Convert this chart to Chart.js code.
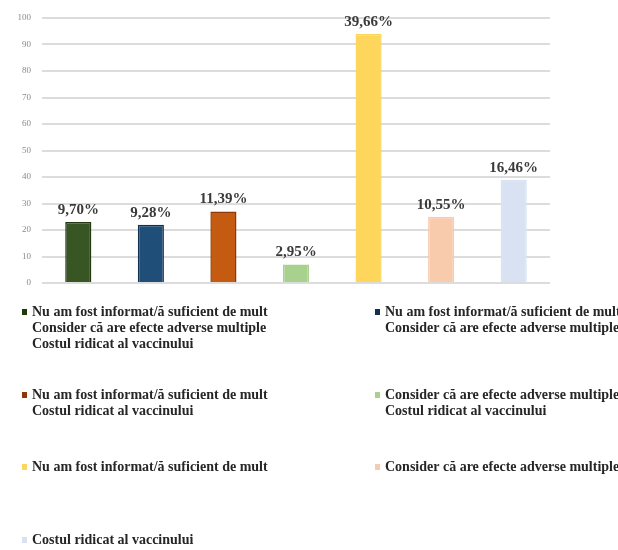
<!DOCTYPE html>
<html>
<head>
<meta charset="utf-8">
<script src="https://cdn.jsdelivr.net/npm/chart.js@4.4.0/dist/chart.umd.min.js"></script>
<style>
  html, body { margin: 0; padding: 0; background: #ffffff; }
  #wrap { width: 618px; height: 550px; position: relative; }
</style>
</head>
<body>
<div id="wrap"><canvas id="chart" width="618" height="550"></canvas></div>
<script>
// Reasons for not getting vaccinated (respondents could pick combinations)
const reasonInfo = 'Nu am fost informat/ă suficient de mult';
const reasonSide = 'Consider că are efecte adverse multiple';
const reasonCost = 'Costul ridicat al vaccinului';

const categories = [
  [reasonInfo, reasonSide, reasonCost],
  [reasonInfo, reasonSide],
  [reasonInfo, reasonCost],
  [reasonSide, reasonCost],
  [reasonInfo],
  [reasonSide],
  [reasonCost]
];

// Number of respondents per answer combination
const respondents = [23, 22, 27, 7, 94, 25, 39];

const fillColors   = ['#375623', '#1f4e79', '#c55a11', '#a9d18e', '#ffd65c', '#f8cbad', '#d9e2f3'];
const borderColors = ['#22380f', '#13304f', '#8a3a08', '#a9d18e', '#ffd65c', '#f8cbad', '#d9e2f3'];

const yTickMin = 0, yTickMax = 100, yTickStep = 10;

const total = respondents.reduce((a, b) => a + b, 0);
const percentLabel = v => (v / total * 100).toFixed(2).replace('.', ',') + '%';

const SERIF = '"Liberation Serif", "Times New Roman", serif';

// Percentage written above every bar
const valueLabels = {
  id: 'valueLabels',
  afterDatasetsDraw(chart) {
    const ctx = chart.ctx;
    const meta = chart.getDatasetMeta(0);
    ctx.save();
    ctx.font = 'bold 15px ' + SERIF;
    ctx.fillStyle = '#3a3a3a';
    ctx.textAlign = 'center';
    ctx.textBaseline = 'alphabetic';
    meta.data.forEach((bar, i) => {
      ctx.fillText(percentLabel(respondents[i]), bar.x, bar.y - 8);
    });
    ctx.restore();
  }
};

// Two-column legend under the plot, one entry per answer combination
const sideLegend = {
  id: 'sideLegend',
  afterDraw(chart) {
    const ctx = chart.ctx;
    const ds = chart.data.datasets[0];
    const columnX = [22, 375];
    const rowY = [312, 395, 467, 540];
    const lineGap = 16;
    ctx.save();
    ctx.font = 'bold 14px ' + SERIF;
    ctx.fillStyle = '#262626';
    ctx.textAlign = 'left';
    ctx.textBaseline = 'middle';
    chart.data.labels.forEach((lines, i) => {
      const x = columnX[i % 2];
      const y = rowY[Math.floor(i / 2)];
      ctx.fillStyle = ds.borderColor[i];
      ctx.fillRect(x, y - 3, 5, 6);
      ctx.fillStyle = '#262626';
      lines.forEach((t, k) => ctx.fillText(t, x + 10, y + k * lineGap));
    });
    ctx.restore();
  }
};

new Chart(document.getElementById('chart'), {
  type: 'bar',
  data: {
    labels: categories,
    datasets: [{
      data: respondents,
      backgroundColor: fillColors,
      borderColor: borderColors,
      borderWidth: 1.5,
      barPercentage: 0.36,
      categoryPercentage: 1
    }]
  },
  options: {
    responsive: false,
    devicePixelRatio: 1,
    animation: false,
    layout: { padding: { left: 0, top: 18, right: 68, bottom: 267 } },
    plugins: {
      legend: { display: false },
      tooltip: { enabled: false },
      title: { display: false }
    },
    scales: {
      x: { display: false },
      y: {
        min: yTickMin,
        max: yTickMax,
        ticks: {
          stepSize: yTickStep,
          color: '#8a8a8a',
          font: { family: SERIF, size: 9 },
          padding: 11
        },
        grid: { color: '#dcdcdc', lineWidth: 2, drawTicks: false },
        border: { display: false },
        afterFit(scale) { scale.width = 42; }
      }
    }
  },
  plugins: [valueLabels, sideLegend]
});
</script>
</body>
</html>
